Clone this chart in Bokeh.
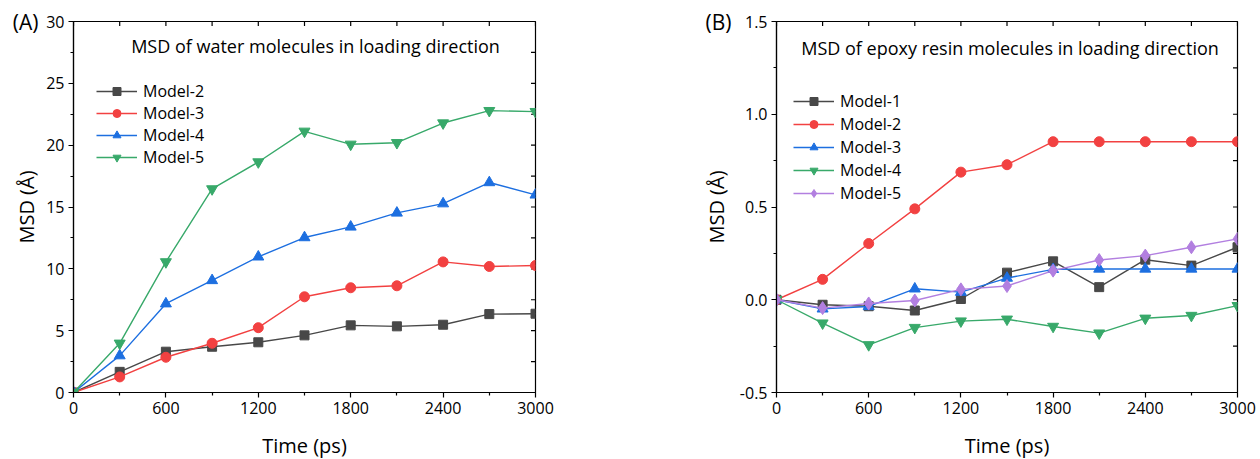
import math
from bokeh.plotting import figure
from bokeh.models import (Range1d, LinearAxis, FixedTicker, Legend, LegendItem, Label,
                          NumeralTickFormatter)
from bokeh.layouts import row
from bokeh.embed import file_html
from bokeh.resources import INLINE

# ---------------- data ----------------
time_ps = [0, 300, 600, 900, 1200, 1500, 1800, 2100, 2400, 2700, 3000]

# (A) water molecules
water_model2 = [0, 1.67, 3.30, 3.70, 4.06, 4.62, 5.43, 5.35, 5.48, 6.34, 6.37]
water_model3 = [0, 1.26, 2.85, 3.98, 5.24, 7.74, 8.47, 8.63, 10.56, 10.19, 10.27]
water_model4 = [0, 2.98, 7.18, 9.06, 10.97, 12.53, 13.39, 14.52, 15.27, 16.98, 15.98]
water_model5 = [0, 3.98, 10.56, 16.46, 18.64, 21.12, 20.07, 20.20, 21.79, 22.79, 22.71]

# (B) epoxy resin molecules
epoxy_model1 = [0, -0.027, -0.035, -0.058, 0.004, 0.146, 0.207, 0.068, 0.216, 0.184, 0.283]
epoxy_model2 = [0, 0.110, 0.303, 0.490, 0.688, 0.728, 0.852, 0.852, 0.852, 0.852, 0.852]
epoxy_model3 = [0, -0.049, -0.036, 0.059, 0.041, 0.117, 0.164, 0.166, 0.166, 0.166, 0.166]
epoxy_model4 = [0, -0.126, -0.243, -0.150, -0.115, -0.105, -0.144, -0.180, -0.100, -0.085, -0.032]
epoxy_model5 = [0, -0.045, -0.020, -0.004, 0.056, 0.074, 0.157, 0.214, 0.238, 0.283, 0.328]

x_ticks = [0, 600, 1200, 1800, 2400, 3000]
x_minor = [300, 900, 1500, 2100, 2700]
yA_ticks = [0, 5, 10, 15, 20, 25, 30]
yA_minor = [2.5, 7.5, 12.5, 17.5, 22.5, 27.5]
yB_ticks = [-0.5, 0.0, 0.5, 1.0, 1.5]
yB_minor = [-0.25, 0.25, 0.75, 1.25]

GRAY = "#484848"
RED = "#f24141"
BLUE = "#1d6fe0"
GREEN = "#38a96a"
PURPLE = "#b27fe0"

FONT = "Open Sans"


def style_axis(ax):
    ax.axis_line_color = "black"
    ax.axis_line_width = 1.2
    ax.major_tick_line_color = "black"
    ax.minor_tick_line_color = "black"
    ax.major_tick_line_width = 1.2
    ax.minor_tick_line_width = 1.2
    ax.major_tick_in = 0
    ax.major_tick_out = 5
    ax.minor_tick_in = 0
    ax.minor_tick_out = 3
    ax.major_label_text_font = FONT
    ax.major_label_text_font_size = "16px"
    ax.major_label_text_color = "black"
    ax.axis_label_text_font = FONT
    ax.axis_label_text_font_size = "20px"
    ax.axis_label_text_font_style = "normal"
    ax.axis_label_text_color = "black"


def make_panel(series, y_lo, y_hi, y_ticks, y_minor, y_fmt, tag, title,
               border_left, border_right, frame_w, legend_xy, legend_spacing,
               title_dx, title_dy_px, ylabel_standoff):
    p = figure(frame_width=frame_w, frame_height=371, output_backend="svg",
               toolbar_location=None, x_range=Range1d(0, 3000),
               y_range=Range1d(y_lo, y_hi), min_border_left=border_left,
               min_border_right=border_right, min_border_top=21,
               min_border_bottom=67)
    p.xgrid.visible = False
    p.ygrid.visible = False
    p.outline_line_color = "black"
    p.outline_line_width = 1.2
    p.background_fill_color = "white"
    p.border_fill_color = "white"

    xa = p.xaxis[0]
    ya = p.yaxis[0]
    xa.ticker = FixedTicker(ticks=x_ticks, minor_ticks=x_minor)
    ya.ticker = FixedTicker(ticks=y_ticks, minor_ticks=y_minor)
    if y_fmt:
        ya.formatter = NumeralTickFormatter(format=y_fmt)
    style_axis(xa)
    style_axis(ya)
    xa.axis_label = "Time (ps)"
    xa.major_label_standoff = 4
    ya.major_label_standoff = 4
    xa.axis_label_standoff = 15

    # outer left axis: carries the panel tag "(A)/(B)" at the top and the y label
    outer = LinearAxis(ticker=FixedTicker(ticks=[y_hi], minor_ticks=[]),
                       major_label_overrides={y_hi: tag})
    style_axis(outer)
    outer.axis_line_color = None
    outer.major_tick_line_color = None
    outer.minor_tick_line_color = None
    outer.major_tick_out = 0
    outer.minor_tick_out = 0
    outer.major_label_standoff = 5
    outer.major_label_text_font_size = "21px"
    outer.axis_label = "MSD (Å)"
    outer.axis_label_standoff = ylabel_standoff
    p.add_layout(outer, "left")

    # inward ticks on the top and right frame edges (half clipped by the frame)
    top_x = x_ticks + x_minor
    p.scatter(top_x, [y_hi] * len(top_x), marker="dash", size=9, angle=math.pi / 2,
              line_color="black", line_width=1.2)
    right_y = y_ticks + y_minor
    p.scatter([3000] * len(right_y), right_y, marker="dash", size=9,
              line_color="black", line_width=1.2)

    items = []
    for name, vals, color, marker, size in series:
        ln = p.line(time_ps, vals, line_color=color, line_width=1.4)
        sc = p.scatter(time_ps, vals, marker=marker, size=size, fill_color=color,
                       line_color=color)
        items.append(LegendItem(label=name, renderers=[ln, sc]))

    leg = Legend(items=items, location=legend_xy, glyph_width=41, glyph_height=20,
                 label_height=20, label_standoff=6, spacing=legend_spacing,
                 padding=0, margin=0, border_line_color=None,
                 background_fill_alpha=0, label_text_font=FONT,
                 label_text_font_size="16px", label_text_color="black")
    p.add_layout(leg, "center")

    y_title = y_hi - (y_hi - y_lo) * title_dy_px / 371.0
    p.add_layout(Label(x=1500, y=y_title, x_offset=title_dx, text=title,
                       text_align="center", text_baseline="middle",
                       text_font=FONT, text_font_size="18px", text_color="black"))
    return p


seriesA = [
    ("Model-2", water_model2, GRAY, "square", 9),
    ("Model-3", water_model3, RED, "circle", 10),
    ("Model-4", water_model4, BLUE, "triangle", 11),
    ("Model-5", water_model5, GREEN, "inverted_triangle", 11),
]
seriesB = [
    ("Model-1", epoxy_model1, GRAY, "square", 9),
    ("Model-2", epoxy_model2, RED, "circle", 10),
    ("Model-3", epoxy_model3, BLUE, "triangle", 11),
    ("Model-4", epoxy_model4, GREEN, "inverted_triangle", 11),
    ("Model-5", epoxy_model5, PURPLE, "diamond", 13),
]

pA = make_panel(seriesA, 0, 30, yA_ticks, yA_minor, None, "(A)",
                "MSD of water molecules in loading direction",
                73, 105, 462, (23, 224), 0, 11, 24, -30)
pB = make_panel(seriesB, -0.5, 1.5, yB_ticks, yB_minor, "0.0", "(B)",
                "MSD of epoxy resin molecules in loading direction",
                136, 23, 461, (17, 188), 1, 3, 26, -27)

layout = row(pA, pB)
open("out.html", "w").write(file_html(layout, INLINE))
